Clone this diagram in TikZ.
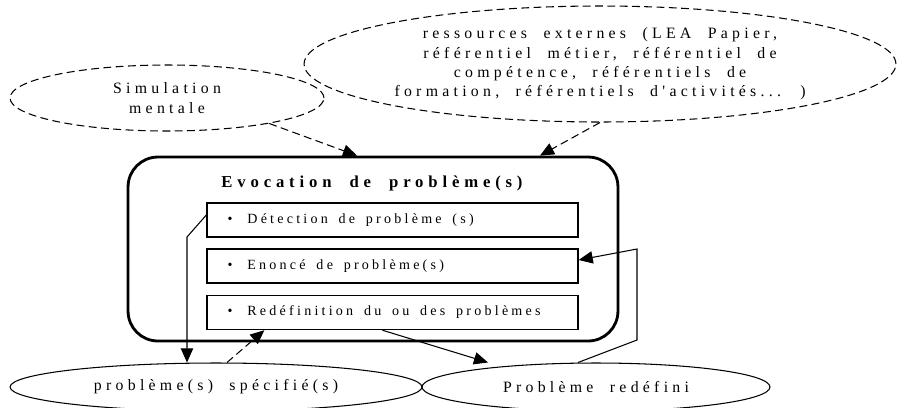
\documentclass[tikz,border=0pt]{standalone}
\usepackage{fontspec}
\setmainfont{Liberation Serif}
\newfontfamily\spaced{Liberation Serif}[LetterSpace=27,WordSpace=2]
\newfontfamily\spacedtitle{Liberation Serif}[LetterSpace=29,WordSpace=2]
\newfontfamily\spacedsm{Liberation Serif}[LetterSpace=23,WordSpace=1.6]
\newcommand\itemline[1]{\makebox[6.6cm][l]{\textbullet\hspace{8.5pt}#1}}
\usetikzlibrary{arrows.meta,shapes.geometric,calc}

\begin{document}
\begin{tikzpicture}[x=0.02cm,y=-0.02cm,>={Triangle[length=8pt,width=7pt]},semithick,
  cloud/.style={ellipse,draw,dash pattern=on 4.5pt off 2.5pt,inner sep=0pt,align=center,font=\spaced\fontsize{9}{11}\selectfont},
  goal/.style={ellipse,draw,inner sep=0pt,font=\spaced\fontsize{9}{11}\selectfont},
  itembox/.style={draw,line width=0.8pt,minimum width=7.42cm,minimum height=0.68cm,font=\spacedsm\fontsize{8}{10}\selectfont}]
\useasboundingbox (0,0) rectangle (898,407);
% les sources
\node[cloud,minimum width=6.28cm,minimum height=1.32cm] (sim) at (167,98) {Simulation\\mentale};
\node[cloud,minimum width=11.84cm,minimum height=2.32cm] (res) at (600,64) {ressources externes (LEA Papier,\\référentiel métier, référentiel de\\compétence, référentiels de\\formation, référentiels d'activités... )};
% le cadre central
\node[draw,line width=1.6pt,rounded corners=17pt,minimum width=9.8cm,minimum height=3.68cm] (evoc) at (373,249) {};
\node[font=\spacedtitle\bfseries\fontsize{9.5}{11}\selectfont] (evoctitle) at (372,183) {Evocation de problème(s)};
\node[itembox] (det) at (392.5,220) {\itemline{Détection de problème (s)}};
\node[itembox] (enon) at (392.5,266) {\itemline{Enoncé de problème(s)}};
\node[itembox] (redf) at (392.5,312.5) {\itemline{Redéfinition du ou des problèmes}};
% les sorties
\node[goal,minimum width=8.24cm,minimum height=0.96cm] (spec) at (216,387) {problème(s) spécifié(s)};
\node[goal,minimum width=6.96cm,minimum height=0.96cm] (redef) at (596,387) {Problème redéfini};
% les liens
\draw[dash pattern=on 4.5pt off 2.5pt,->] (sim.-14) -- ($(evoc.north)+(-16,0)$);
\draw[dash pattern=on 4.5pt off 2.5pt,->] (res.south) -- ($(evoc.north)+(167,0)$);
\coordinate (detbend) at (187,237);
\draw[->] ($(det.west)+(0,-5)$) -- (detbend) -- (detbend |- spec.north);
\draw[dash pattern=on 4.5pt off 2.5pt,->] ($(spec.north)+(11,0)$) -- ($(redf.south west)+(58,0)$);
\draw[->] ($(redf.south west)+(176,0)$) -- ($(redef.north)+(-108,0)$);
\coordinate (loopa) at (637,340);
\coordinate (loopb) at (637,249);
\draw[->] ($(redef.north)+(-18,0)$) -- (loopa) -- (loopb) -- ($(enon.east)+(0,-6)$);
\end{tikzpicture}
\end{document}
